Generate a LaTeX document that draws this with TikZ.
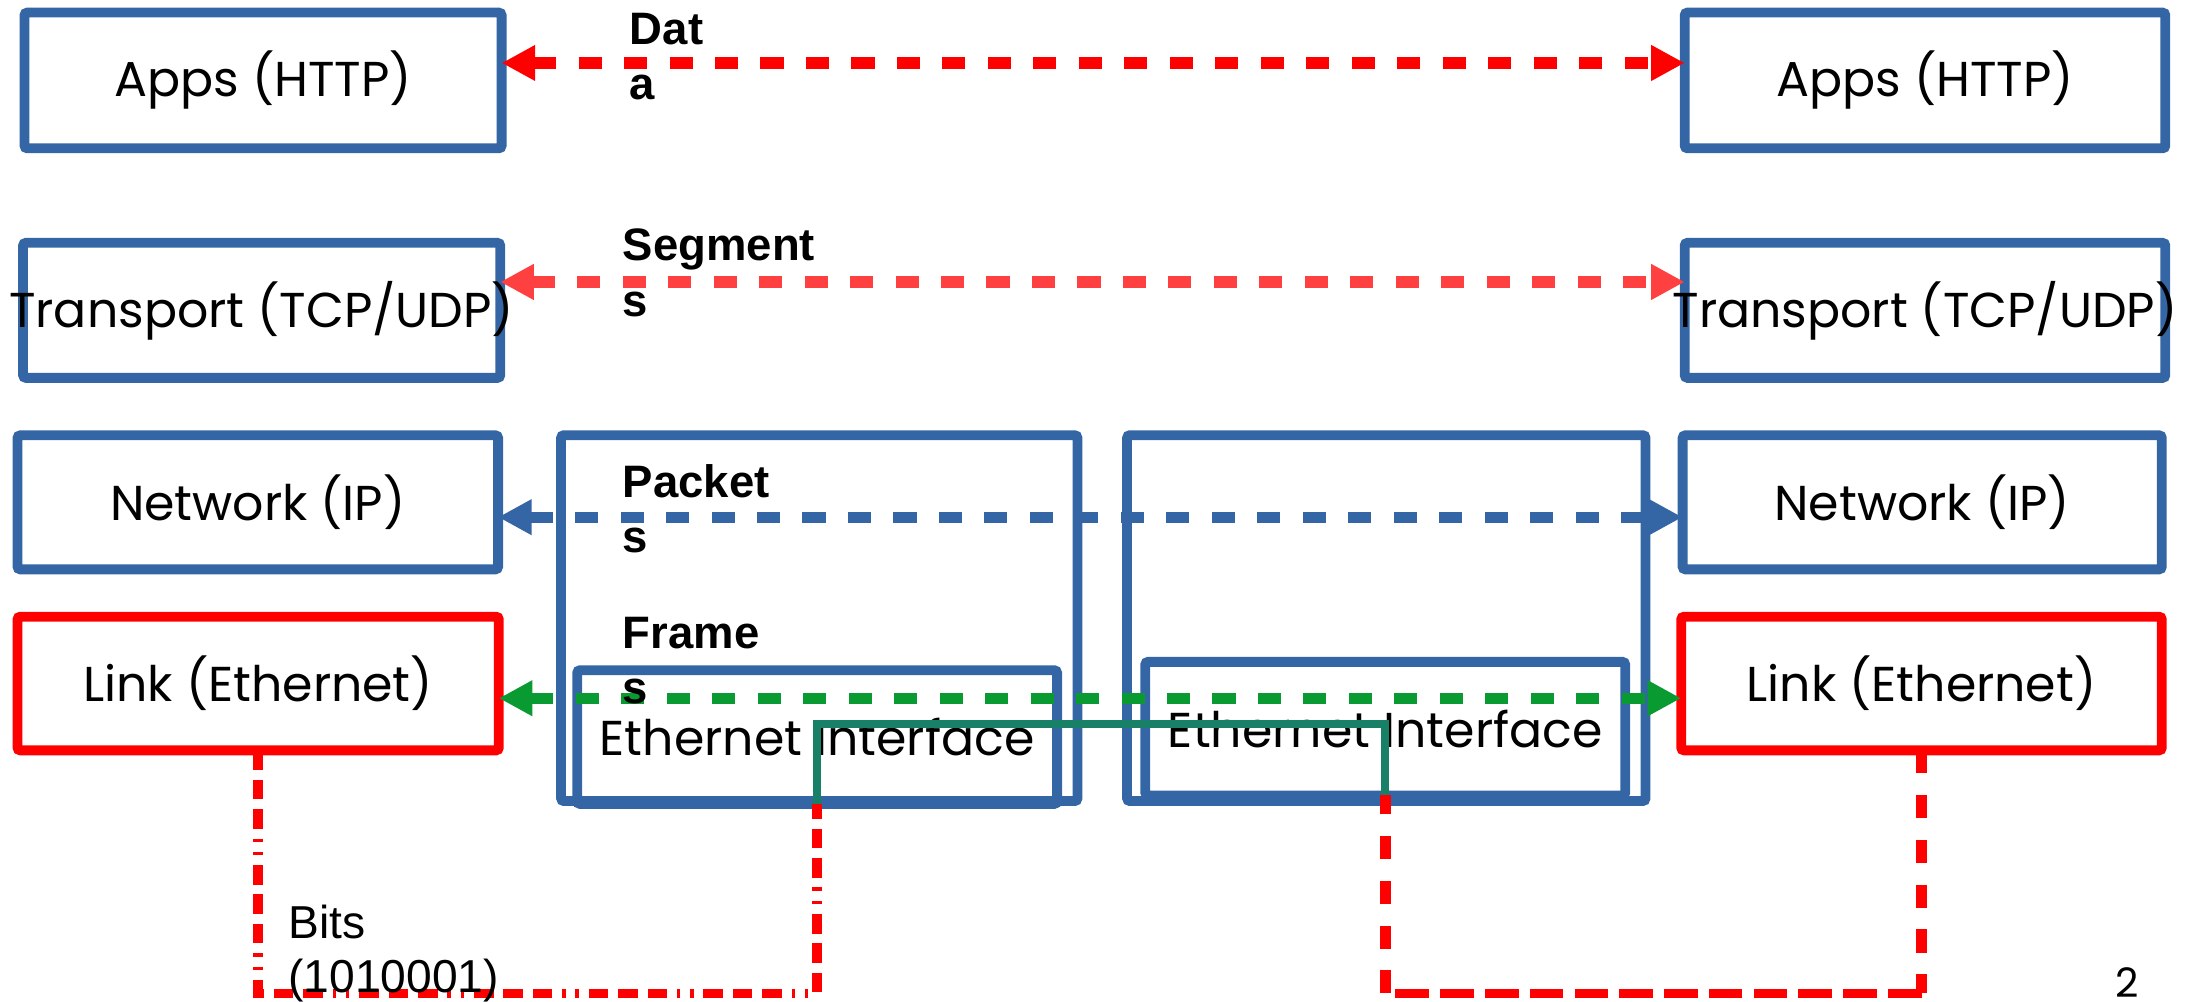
\documentclass[tikz,border=0pt]{standalone}
\usepackage{fontspec}
\setmainfont{Poppins}
\newfontfamily\arialfont{Liberation Sans}
\usetikzlibrary{arrows.meta}
\definecolor{boxblue}{HTML}{3465A4}
\definecolor{segred}{HTML}{FF4040}
\definecolor{frgreen}{HTML}{0A9A32}
\definecolor{linkteal}{HTML}{178066}
\begin{document}
\begin{tikzpicture}[x=1pt,y=-1pt,
  layerbox/.style={draw=boxblue, line width=7pt, rounded corners=2pt, inner sep=0pt, outer sep=0pt,
    text=black, font=\fontsize{35}{42}\selectfont},
  redbox/.style={layerbox, draw=red},
  pduarrow/.style={line width=8pt, dash pattern=on 16.5pt off 16pt,
    {Triangle[length=24pt,width=24pt]}-{Triangle[length=24pt,width=24pt]}},
  pdulabel/.style={font=\arialfont\bfseries\fontsize{32.5}{39.5}\selectfont, align=left, anchor=base west, inner sep=0pt},
  bitsmix/.style={draw=red, line width=7pt, dash pattern=on 14pt off 7pt on 14pt off 7pt on 14pt off 7pt on 2.5pt off 7pt on 2.5pt off 7pt},
  bitsv/.style={draw=red, line width=8pt, dash pattern=on 16.5pt off 15.5pt},
  bitsh/.style={draw=red, line width=7pt, dash pattern=on 24pt off 8pt},
]
\useasboundingbox (0,0) rectangle (1568,716);

% end-host stacks
\node[layerbox, minimum width=341pt, minimum height=97pt] (appsL) at (188,57.5) {Apps (HTTP)};
\node[layerbox, minimum width=341pt, minimum height=96.5pt] (transL) at (187,221.8) {\makebox[0pt]{Transport (TCP/UDP)}};
\node[layerbox, minimum width=343.5pt, minimum height=95.8pt] (netL) at (184.25,359) {Network (IP)};
\node[redbox, minimum width=344pt, minimum height=95.5pt] (linkL) at (184.5,488.5) {Link (Ethernet)};

\node[layerbox, minimum width=343.5pt, minimum height=97pt] (appsR) at (1375.75,57.5) {Apps (HTTP)};
\node[layerbox, minimum width=343.5pt, minimum height=96.5pt] (transR) at (1375.75,221.8) {\makebox[0pt]{Transport (TCP/UDP)}};
\node[layerbox, minimum width=342.5pt, minimum height=95.8pt] (netR) at (1373.75,359) {Network (IP)};
\node[redbox, minimum width=343.5pt, minimum height=95.5pt] (linkR) at (1373.25,488.5) {Link (Ethernet)};

% routers / switches
\node[layerbox, minimum width=369pt, minimum height=261.5pt] (routerA) at (585.5,441.75) {};
\node[layerbox, minimum width=370.5pt, minimum height=261.5pt] (routerB) at (990.75,441.75) {};
\node[layerbox, minimum width=343pt, minimum height=95.5pt] (ethA) at (584,526.75) {Ethernet Interface};
\node[layerbox, minimum width=343pt, minimum height=95.5pt] (ethB) at (990,520.75) {Ethernet Interface};

% peer-to-peer PDU arrows
\draw[pduarrow, red] ([yshift=12.5pt]appsL.east) -- ([yshift=12.5pt]appsR.west);
\draw[pduarrow, segred] ([yshift=20.3pt]transL.east) -- ([yshift=20.3pt]transR.west);
\draw[pduarrow, boxblue] ([yshift=-10.6pt]netL.east) -- ([yshift=-10.6pt]netR.west);
\draw[pduarrow, frgreen] ([yshift=-10.5pt]linkL.east) -- ([yshift=-10.5pt]linkR.west);

% cable between interfaces
\draw[linkteal, line width=6pt] (ethA.south) -- ++(0,-57) -| (ethB.south);

% physical bit paths
\draw[bitsmix] (linkL.south) -- ++(0,173.75) -| (ethA.south);
\coordinate (r1) at ([yshift=-173.75pt]linkR.south);
\coordinate (r2) at (r1 -| ethB.south);
\draw[bitsv] (linkR.south) -- (r1);
\draw[bitsh] (r1) -- (r2);
\draw[bitsv] (r2) -- (ethB.south);

% labels (anchored at the baseline of their last line)
\node[pdulabel] (ldata) at (450,71.2) {Dat\\a};
\node[pdulabel] (lseg) at (445,226) {Segment\\s};
\node[pdulabel] (lpkt) at (445,395) {Packet\\s};
\node[pdulabel] (lfrm) at (445,503) {Frame\\s};
\node[font=\arialfont\fontsize{33}{38}\selectfont, align=left, anchor=base west, inner sep=0pt] (lbits) at (206,709) {Bits\\(1010001)};
\node[font=\fontsize{29}{35}\selectfont, anchor=base west, inner sep=0pt] (pnum) at (1512,713) {2};
\end{tikzpicture}
\end{document}
